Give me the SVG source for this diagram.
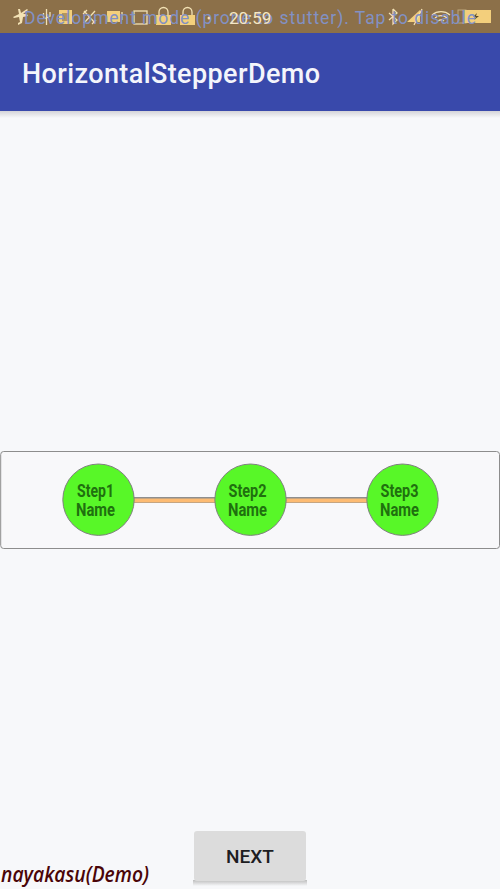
<svg xmlns="http://www.w3.org/2000/svg" width="500" height="889" viewBox="0 0 500 889">
<defs>
<linearGradient id="sh" x1="0" y1="0" x2="0" y2="1"><stop offset="0" stop-color="#d4d4d8"/><stop offset="1" stop-color="#f7f8fa"/></linearGradient>
<linearGradient id="bs" x1="0" y1="0" x2="0" y2="1"><stop offset="0" stop-color="#bdbdbd"/><stop offset="1" stop-color="#f7f8fa"/></linearGradient>
</defs>
<style>
.step{fill:#58f728;stroke:#808080;stroke-width:1}
.lbl{font:bold 18px Roboto,"Liberation Sans",sans-serif;fill:#20700f;text-anchor:middle}
.ico{fill:#f3cf7c}
.icol{fill:none;stroke:#f3e2b5;stroke-width:1.300}
.conn{stroke:#fdbb72;stroke-width:4}
.connb{stroke:#8f8f8f;stroke-width:6}
</style>
<rect width="500" height="889" fill="#f7f8fa"/>
<g id="status-bar">
<rect width="500" height="33" fill="#8c7049"/>
<g id="status-icons">
<path d="M27 9l-6 4-1-4h-2l1 5-6 3 1 1 5-1 1 5-2 1 0 2 4-2 1-6 5-1-1-2-4 0 5-4z" fill="#f3e2b5"/>
<path class="icol" d="M46.500 9v16M43.500 13v4l3 2M50 12v4l-3.500 2"/>
<rect class="ico" x="59" y="10" width="13" height="14"/>
<path d="M62 13h7v8h-7z" fill="#8c7049" opacity=".6"/>
<path class="icol" d="M84 11l11 12M95 11l-11 12M83 14l4-4M92 24l4-4"/>
<rect class="ico" x="107" y="11" width="13" height="11"/>
<path class="icol" d="M122 12v8"/>
<rect class="icol" x="134" y="11" width="13" height="13"/>
<rect class="ico" x="156" y="15" width="15" height="10"/>
<path class="icol" d="M159 15v-3a4.500 4.500 0 0 1 9 0v3"/>
<rect class="ico" x="180" y="15" width="15" height="10"/>
<path class="icol" d="M183 15v-3a4.500 4.500 0 0 1 9 0v3"/>
<circle cx="209" cy="18" r="1.500" fill="#f3e2b5"/>
<path class="icol" d="M393 9v15l4-4-8-7M393 9l4 4-8 7"/>
<path class="ico" d="M407 22l13-12v12z"/>
<path class="icol" d="M422 9l-8 16"/>
<path class="icol" d="M432 15a14 14 0 0 1 18 0M435 18a9 9 0 0 1 12 0M438 21a5 5 0 0 1 6 0"/>
<rect x="458" y="10" width="8" height="13" fill="none" stroke="#bda77f"/>
<rect class="ico" x="464" y="10" width="27" height="13"/>
<path d="M477 13l-4 4h3l-2 3 5-4h-3z" fill="#5a4a2a"/>
</g>
<text x="24" y="24" font-family="Roboto,'Liberation Sans',sans-serif" font-size="17.500" fill="#8291c4" textLength="452" lengthAdjust="spacing">Development mode (prone to stutter). Tap to disable</text>
<text x="229" y="24" font-family="Roboto,'Liberation Sans',sans-serif" font-size="17" fill="#f6e7c2">20:59</text>
</g>
<g id="app-bar">
<rect y="33" width="500" height="78" fill="#3949ab"/>
<rect y="111" width="500" height="7" fill="url(#sh)"/>
<text x="22" y="83" font-family="Roboto,'Liberation Sans',sans-serif" font-size="27" font-weight="500" fill="#f4f5fb" textLength="298" lengthAdjust="spacing">HorizontalStepperDemo</text>
</g>
<g id="stepper-frame">
<rect x="0.700" y="451.500" width="498.800" height="97" rx="3" fill="#f8f8fa" stroke="#8d8d8d" stroke-width="1"/>
</g>
<g id="connectors">
<line class="connb" x1="134" y1="500" x2="216" y2="500"/>
<line class="conn" x1="134" y1="500.400" x2="216" y2="500.400"/>
<line class="connb" x1="286" y1="500" x2="368" y2="500"/>
<line class="conn" x1="286" y1="500.400" x2="368" y2="500.400"/>
</g>
<g id="step1"><circle class="step" cx="98.500" cy="499.700" r="35.700"/><text class="lbl" x="95.500" y="497" textLength="37" lengthAdjust="spacingAndGlyphs">Step1</text><text class="lbl" x="95.500" y="516" textLength="39" lengthAdjust="spacingAndGlyphs">Name</text></g>
<g id="step2"><circle class="step" cx="250.500" cy="499.700" r="35.700"/><text class="lbl" x="247.500" y="497" textLength="38" lengthAdjust="spacingAndGlyphs">Step2</text><text class="lbl" x="247.500" y="516" textLength="39" lengthAdjust="spacingAndGlyphs">Name</text></g>
<g id="step3"><circle class="step" cx="402.500" cy="499.700" r="35.700"/><text class="lbl" x="399.500" y="497" textLength="38" lengthAdjust="spacingAndGlyphs">Step3</text><text class="lbl" x="399.500" y="516" textLength="39" lengthAdjust="spacingAndGlyphs">Name</text></g>
<g id="next-button">
<rect x="193" y="880" width="114" height="6" fill="url(#bs)"/>
<rect x="194" y="831" width="112" height="50" rx="3" fill="#dcdcdc"/>
<text x="250" y="863" font-family="Roboto,'Liberation Sans',sans-serif" font-size="19" font-weight="500" fill="#1d1d22" text-anchor="middle">NEXT</text>
</g>
<g id="watermark">
<text x="1" y="882" font-family="'Open Sans','Noto Sans',sans-serif" font-size="21" font-style="italic" font-weight="600" fill="#4a0508" textLength="148" lengthAdjust="spacingAndGlyphs">nayakasu(Demo)</text>
</g>
</svg>
